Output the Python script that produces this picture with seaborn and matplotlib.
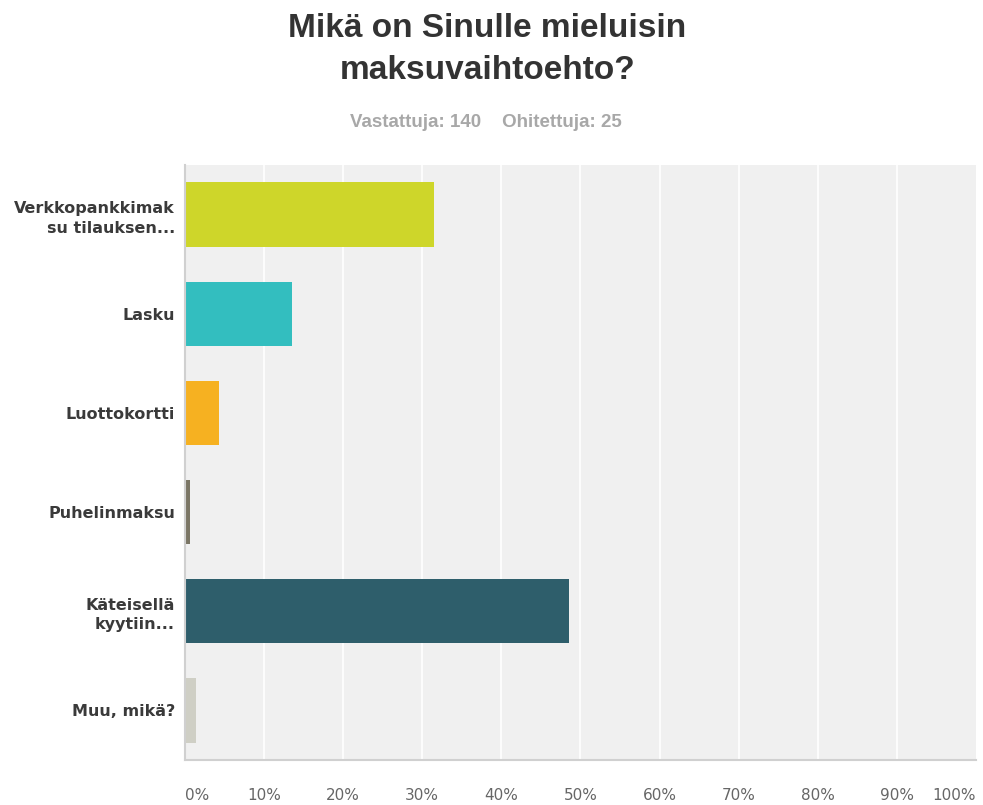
import matplotlib
matplotlib.use("Agg")
import matplotlib.pyplot as plt
import seaborn as sns
import pandas as pd

categories = ["Verkkopankkimak\nsu tilauksen...", "Lasku", "Luottokortti",
              "Puhelinmaksu", "Käteisellä\nkyytiin...", "Muu, mikä?"]
values = [31.43, 13.57, 4.29, 0.71, 48.57, 1.43]
colors = ["#CED62A", "#33BEBF", "#F6B121", "#7B7665", "#2E5E6B", "#CFCFC5"]
xticks = [0, 10, 20, 30, 40, 50, 60, 70, 80, 90, 100]
xtick_labels = [f"{t}%" for t in xticks]

sns.set_theme(style="white")
plt.rcParams['font.family'] = ['Liberation Sans', 'DejaVu Sans']

df = pd.DataFrame({"cat": categories, "val": values})

fig = plt.figure(figsize=(9.83, 8.05), dpi=100)
ax = fig.add_axes([0.188, 0.056, 0.805, 0.739])
sns.barplot(data=df, y="cat", x="val", hue="cat", palette=colors,
            orient="h", width=0.65, legend=False, ax=ax, saturation=1,
            edgecolor="none")

ax.set_facecolor("#F0F0F0")
ax.set_xlim(0, 100)
ax.set_ylim(5.5, -0.5)
ax.set_xticks(xticks)
ax.set_xticklabels(xtick_labels, color="#666666", fontsize=11, family="DejaVu Sans")
for i, lab in enumerate(ax.get_xticklabels()):
    if i == 0:
        lab.set_horizontalalignment("left")
    elif i == len(xticks) - 1:
        lab.set_horizontalalignment("right")
ax.tick_params(axis="x", length=0, pad=20)
ax.tick_params(axis="y", length=0, pad=7)
for lab in ax.get_yticklabels():
    lab.set_fontsize(11.5)
    lab.set_family("DejaVu Sans")
    lab.set_fontweight("bold")
    lab.set_color("#3A3A3A")
    lab.set_horizontalalignment("right")
    lab.set_multialignment("right")
    lab.set_linespacing(1.4)
ax.set_xlabel("")
ax.set_ylabel("")
for t in xticks[1:-1]:
    ax.axvline(t, color="white", lw=1.2, zorder=0.5)
for s in ["top", "right"]:
    ax.spines[s].set_visible(False)
ax.spines["left"].set_color("#D0D0D0")
ax.spines["bottom"].set_color("#D0D0D0")
ax.spines["left"].set_linewidth(1.5)
ax.spines["bottom"].set_linewidth(1.5)

fig.text(0.496, 0.939, "Mikä on Sinulle mieluisin\nmaksuvaihtoehto?", ha="center", va="center",
         fontsize=24, fontweight="bold", color="#333333", linespacing=1.45)
fig.text(0.494, 0.848, "Vastattuja: 140    Ohitettuja: 25", ha="center", va="center",
         fontsize=13.5, fontweight="bold", color="#A8A8A8")

fig.savefig("out.png", dpi=100)
